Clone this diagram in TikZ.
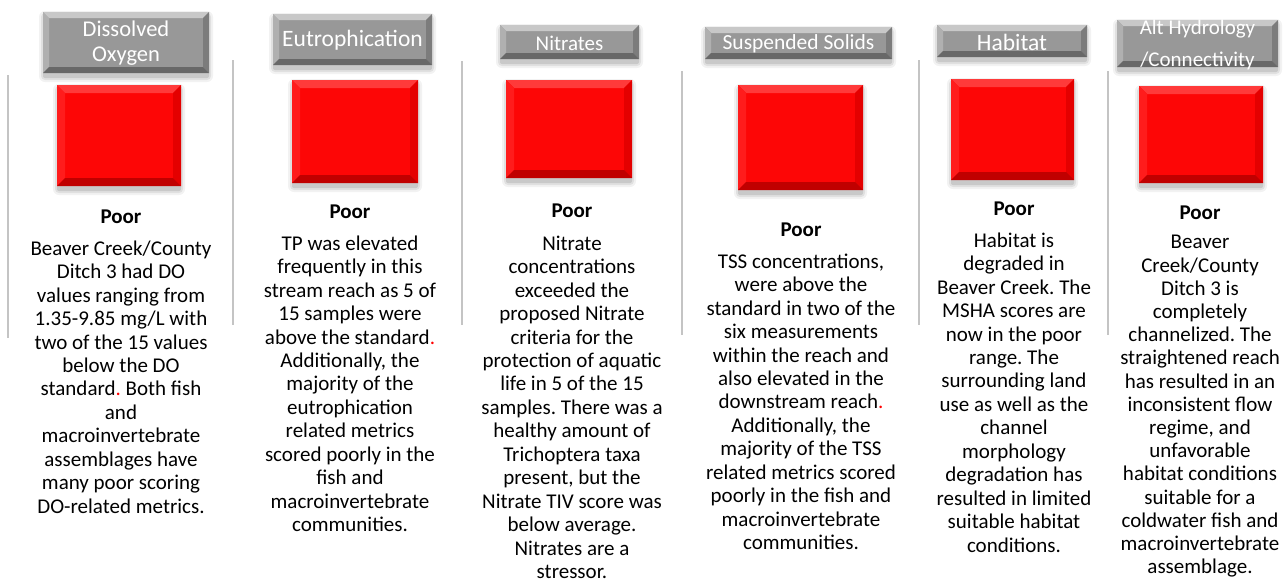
\documentclass[tikz,border=0pt]{standalone}
\usepackage{fontspec}
\setmainfont{Carlito}
\usetikzlibrary{calc}
\frenchspacing
\definecolor{redM}{RGB}{253,6,6}
\definecolor{redT}{RGB}{255,58,58}
\definecolor{redL}{RGB}{255,28,28}
\definecolor{redR}{RGB}{228,0,0}
\definecolor{redB}{RGB}{192,0,0}
\definecolor{grayM}{RGB}{152,152,152}
\definecolor{grayT}{RGB}{200,200,200}
\definecolor{grayL}{RGB}{176,176,176}
\definecolor{grayR}{RGB}{124,124,124}
\definecolor{grayB}{RGB}{104,104,104}
\definecolor{sepline}{RGB}{196,196,196}
\definecolor{dotred}{RGB}{255,0,0}
\newcommand{\bevelbox}[7]{%
  \fill[black,opacity=0.05,rounded corners=6] (#2-4,#3-1) rectangle (#4+4,#5+9);
  \fill[black,opacity=0.07,rounded corners=4] (#2-2,#3+1) rectangle (#4+2,#5+7);
  \fill[black,opacity=0.10,rounded corners=2] (#2,#3+2) rectangle (#4,#5+5);
  \node[inner sep=0pt,outer sep=0pt,fill=#7M,minimum width={#4-#2},minimum height={#5-#3},anchor=north west] (#1) at (#2,#3) {};
  \fill[#7T] (#1.north west) -- (#1.north east) -- ($(#1.north east)+(-#6,#6)$) -- ($(#1.north west)+(#6,#6)$) -- cycle;
  \fill[#7L] (#1.north west) -- (#1.south west) -- ($(#1.south west)+(#6,-#6)$) -- ($(#1.north west)+(#6,#6)$) -- cycle;
  \fill[#7R] (#1.north east) -- (#1.south east) -- ($(#1.south east)+(-#6,-#6)$) -- ($(#1.north east)+(-#6,#6)$) -- cycle;
  \fill[#7B] (#1.south west) -- (#1.south east) -- ($(#1.south east)+(-#6,-#6)$) -- ($(#1.south west)+(#6,-#6)$) -- cycle;
}
\tikzset{
  hdrtext/.style={text=white,align=center,inner sep=0pt},
  poortext/.style={font=\bfseries\fontsize{21}{23.45}\selectfont,anchor=base,inner sep=0pt},
  bodytext/.style={font=\fontsize{21}{23.45}\selectfont,align=center,anchor=north,inner sep=0pt},
  sep/.style={draw=sepline,line width=1.1pt}
}
\begin{document}
\begin{tikzpicture}[x=1pt,y=-1pt]
\useasboundingbox[fill=white] (0,0) rectangle (1285,582);

% separator lines
\coordinate (s1a) at (8,75);    \coordinate (s1b) at (8,338);
\coordinate (s2a) at (233,60);  \coordinate (s2b) at (233,325);
\coordinate (s3a) at (462,61);  \coordinate (s3b) at (462,325);
\coordinate (s4a) at (682,71);  \coordinate (s4b) at (682,335);
\coordinate (s5a) at (919,60);  \coordinate (s5b) at (919,325);
\coordinate (s6a) at (1108,71); \coordinate (s6b) at (1108,335);
\foreach \i in {1,...,6}{\draw[sep] (s\i a) -- (s\i b);}

% headers
\bevelbox{h1}{43}{12}{209}{73}{6}{gray}
\bevelbox{h2}{273}{14}{432}{65}{6}{gray}
\bevelbox{h3}{500}{25}{639}{59}{6}{gray}
\bevelbox{h4}{705}{27}{892}{59}{6}{gray}
\bevelbox{h5}{937}{25}{1087}{57}{6}{gray}
\bevelbox{h6}{1117}{20}{1278}{67}{6}{gray}

\node[hdrtext,font=\fontsize{22.5}{25}\selectfont] (h1t) at ($(h1)+(0,1)$) {Dissolved\\Oxygen};
\node[hdrtext,font=\fontsize{23.5}{26}\selectfont] (h2t) at ($(h2)+(0,1)$) {Eutrophication};
\node[hdrtext,font=\fontsize{21}{24}\selectfont] (h3t) at ($(h3)+(0,1)$) {Nitrates};
\node[hdrtext,font=\fontsize{21.5}{24}\selectfont] (h4t) at ($(h4)+(0,1)$) {Suspended Solids};
\node[hdrtext,font=\fontsize{23.5}{26}\selectfont] (h5t) at ($(h5)+(0,1)$) {Habitat};
\node[hdrtext,font=\fontsize{21}{32}\selectfont] (h6t) at ($(h6)+(0,1.5)$) {Alt Hydrology\\/Connectivity};

% red squares
\bevelbox{r1}{57}{85}{181}{186}{8}{red}
\bevelbox{r2}{292}{80}{418}{183}{8}{red}
\bevelbox{r3}{506}{80}{632}{178}{8}{red}
\bevelbox{r4}{738}{85}{863}{190}{8}{red}
\bevelbox{r5}{951}{79}{1074}{180}{8}{red}
\bevelbox{r6}{1139}{86}{1263}{183}{8}{red}

% ratings
\node[poortext] (p1) at (121,223) {Poor};
\node[poortext] (p2) at (350,218) {Poor};
\node[poortext] (p3) at (572,217) {Poor};
\node[poortext] (p4) at (801,236) {Poor};
\node[poortext] (p5) at (1014,215) {Poor};
\node[poortext] (p6) at (1200,219) {Poor};

% descriptions
\node[bodytext] (b1) at (121,238.6) {\strut Beaver Creek/County\\Ditch 3 had DO\\values ranging from\\1.35-9.85 mg/L with\\two of the 15 values\\below the DO\\standard{\color{dotred}.} Both fish\\and\\macroinvertebrate\\assemblages have\\many poor scoring\\DO-related metrics.};
\node[bodytext] (b2) at (350,233.6) {\strut TP was elevated\\frequently in this\\stream reach as 5 of\\15 samples were\\above the standard{\color{dotred}.}\\Additionally, the\\majority of the\\eutrophication\\related metrics\\scored poorly in the\\fish and\\macroinvertebrate\\communities.};
\node[bodytext] (b3) at (572,233.6) {\strut Nitrate\\concentrations\\exceeded the\\proposed Nitrate\\criteria for the\\protection of aquatic\\life in 5 of the 15\\samples. There was a\\healthy amount of\\Trichoptera taxa\\present, but the\\Nitrate TIV score was\\below average.\\Nitrates are a\\stressor.};
\node[bodytext] (b4) at (801,251.6) {\strut TSS concentrations,\\were above the\\standard in two of the\\six measurements\\within the reach and\\also elevated in the\\downstream reach{\color{dotred}.}\\Additionally, the\\majority of the TSS\\related metrics scored\\poorly in the fish and\\macroinvertebrate\\communities.};
\node[bodytext] (b5) at (1014,230.6) {\strut Habitat is\\degraded in\\Beaver Creek. The\\MSHA scores are\\now in the poor\\range. The\\surrounding land\\use as well as the\\channel\\morphology\\degradation has\\resulted in limited\\suitable habitat\\conditions.};
\node[bodytext,font=\fontsize{21}{23.2}\selectfont] (b6) at (1200,232.5) {\strut Beaver\\Creek/County\\Ditch 3 is\\completely\\channelized. The\\straightened reach\\has resulted in an\\inconsistent flow\\regime, and\\unfavorable\\habitat conditions\\suitable for a\\coldwater fish and\\macroinvertebrate\\assemblage.};
\end{tikzpicture}
\end{document}
